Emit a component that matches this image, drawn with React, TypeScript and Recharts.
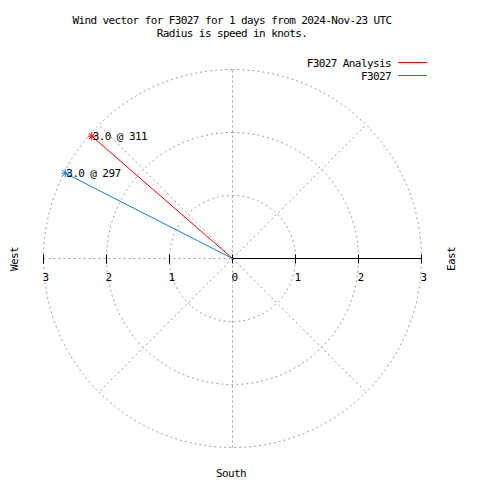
import React from 'react';
import { ScatterChart, Scatter, XAxis, YAxis, ReferenceLine } from 'recharts';

// wind vectors: speed in knots, direction in degrees (from north, clockwise)
const seriesNames = ['F3027 Analysis', 'F3027'];
const seriesColors = ['#ff0000', '#0a80f0'];
const speeds = [2.96, 2.98];
const directions = [311, 297];

// polar grid
const ringRadii = [1, 2, 3];
const spokeAngles = [45, 135, 225, 315];
const tickValues = [-3, -2, -1, 0, 1, 2, 3];
const tickLabels = ['3', '2', '1', '0', '1', '2', '3'];

const FONT = '"DejaVu Sans Mono", monospace';
const GRID = '#a0a0a0';
const DASH = '2 3';

const rad = (d: number) => (d * Math.PI) / 180;

const ring = (r: number) => {
    const pts = [];
    for (let a = 0; a <= 360; a += 2) pts.push({ x: r * Math.sin(rad(a)), y: r * Math.cos(rad(a)) });
    return pts;
};

const vector = (i: number) => [
    { x: 0, y: 0 },
    {
        x: speeds[i] * Math.sin(rad(directions[i])),
        y: speeds[i] * Math.cos(rad(directions[i])),
        label: `${speeds[i].toFixed(1)} @ ${directions[i]}`,
    },
];

const tickData = tickValues.map((v, i) => ({ x: v, y: 0, label: tickLabels[i] }));

const Star = ({ cx, cy, color }: { cx: number; cy: number; color: string }) => (
    <g stroke={color} strokeWidth={1}>
        <line x1={cx - 4} y1={cy} x2={cx + 4} y2={cy} />
        <line x1={cx} y1={cy - 4} x2={cx} y2={cy + 4} />
        <line x1={cx - 3} y1={cy - 3} x2={cx + 3} y2={cy + 3} />
        <line x1={cx - 3} y1={cy + 3} x2={cx + 3} y2={cy - 3} />
    </g>
);

const txt = { fontFamily: FONT, fontSize: 11, letterSpacing: -0.6, fill: '#000' } as const;

export default function App() {
    return (
        <div style={{ position: 'absolute', left: 0, top: 0, width: 480, height: 480, background: '#fff' }}>
            <ScatterChart width={480} height={480} margin={{ top: 69.5, right: 58.5, bottom: 32.5, left: 43.5 }}>
                <XAxis type="number" dataKey="x" domain={[-3, 3]} hide />
                <YAxis type="number" dataKey="y" domain={[-3, 3]} hide />
                {ringRadii.map(r => (
                    <Scatter
                        key={'ring' + r}
                        data={ring(r)}
                        line={{ stroke: GRID, strokeWidth: 1, strokeDasharray: DASH }}
                        shape={() => <g />}
                        isAnimationActive={false}
                    />
                ))}
                <ReferenceLine x={0} stroke={GRID} strokeDasharray={DASH} />
                <ReferenceLine segment={[{ x: -3, y: 0 }, { x: 0, y: 0 }]} stroke={GRID} strokeDasharray={DASH} />
                {spokeAngles.map(a => (
                    <ReferenceLine
                        key={'spoke' + a}
                        segment={[{ x: 0, y: 0 }, { x: 3 * Math.sin(rad(a)), y: 3 * Math.cos(rad(a)) }]}
                        stroke={GRID}
                        strokeDasharray={DASH}
                    />
                ))}
                <ReferenceLine segment={[{ x: 0, y: 0 }, { x: 3, y: 0 }]} stroke="#000" strokeWidth={1} />
                <Scatter
                    data={tickData}
                    isAnimationActive={false}
                    shape={(p: any) => (
                        <g>
                            <line x1={p.cx} y1={p.cy - 4} x2={p.cx} y2={p.cy + 5} stroke="#000" />
                            <text x={p.cx + 2} y={p.cy + 22} textAnchor="middle" style={txt}>{p.payload.label}</text>
                        </g>
                    )}
                />
                {seriesNames.map((name, i) => (
                    <Scatter
                        key={name}
                        name={name}
                        data={vector(i)}
                        line={{ stroke: seriesColors[i], strokeWidth: 1 }}
                        isAnimationActive={false}
                        shape={(p: any) =>
                            p.payload.label ? (
                                <g>
                                    <Star cx={p.cx} cy={p.cy} color={seriesColors[i]} />
                                    <text x={p.cx + 1} y={p.cy + 4} style={txt}>{p.payload.label}</text>
                                </g>
                            ) : (
                                <g />
                            )
                        }
                    />
                ))}
            </ScatterChart>
            <svg width={480} height={480} style={{ position: 'absolute', left: 0, top: 0, pointerEvents: 'none' }}>
                <text x={232} y={24} textAnchor="middle" style={txt}>Wind vector for F3027 for 1 days from 2024-Nov-23 UTC</text>
                <text x={232} y={37} textAnchor="middle" style={txt}>Radius is speed in knots.</text>
                {seriesNames.map((name, i) => (
                    <g key={name}>
                        <text x={391} y={67 + i * 13} textAnchor="end" style={txt}>{name}</text>
                        <line x1={398} y1={62.5 + i * 13} x2={427} y2={62.5 + i * 13} stroke={seriesColors[i]} strokeWidth={1} />
                    </g>
                ))}
                <text transform="translate(18,259) rotate(-90)" textAnchor="middle" style={txt}>West</text>
                <text transform="translate(455,259) rotate(-90)" textAnchor="middle" style={txt}>East</text>
                <text x={231} y={477} textAnchor="middle" style={txt}>South</text>
            </svg>
        </div>
    );
}
